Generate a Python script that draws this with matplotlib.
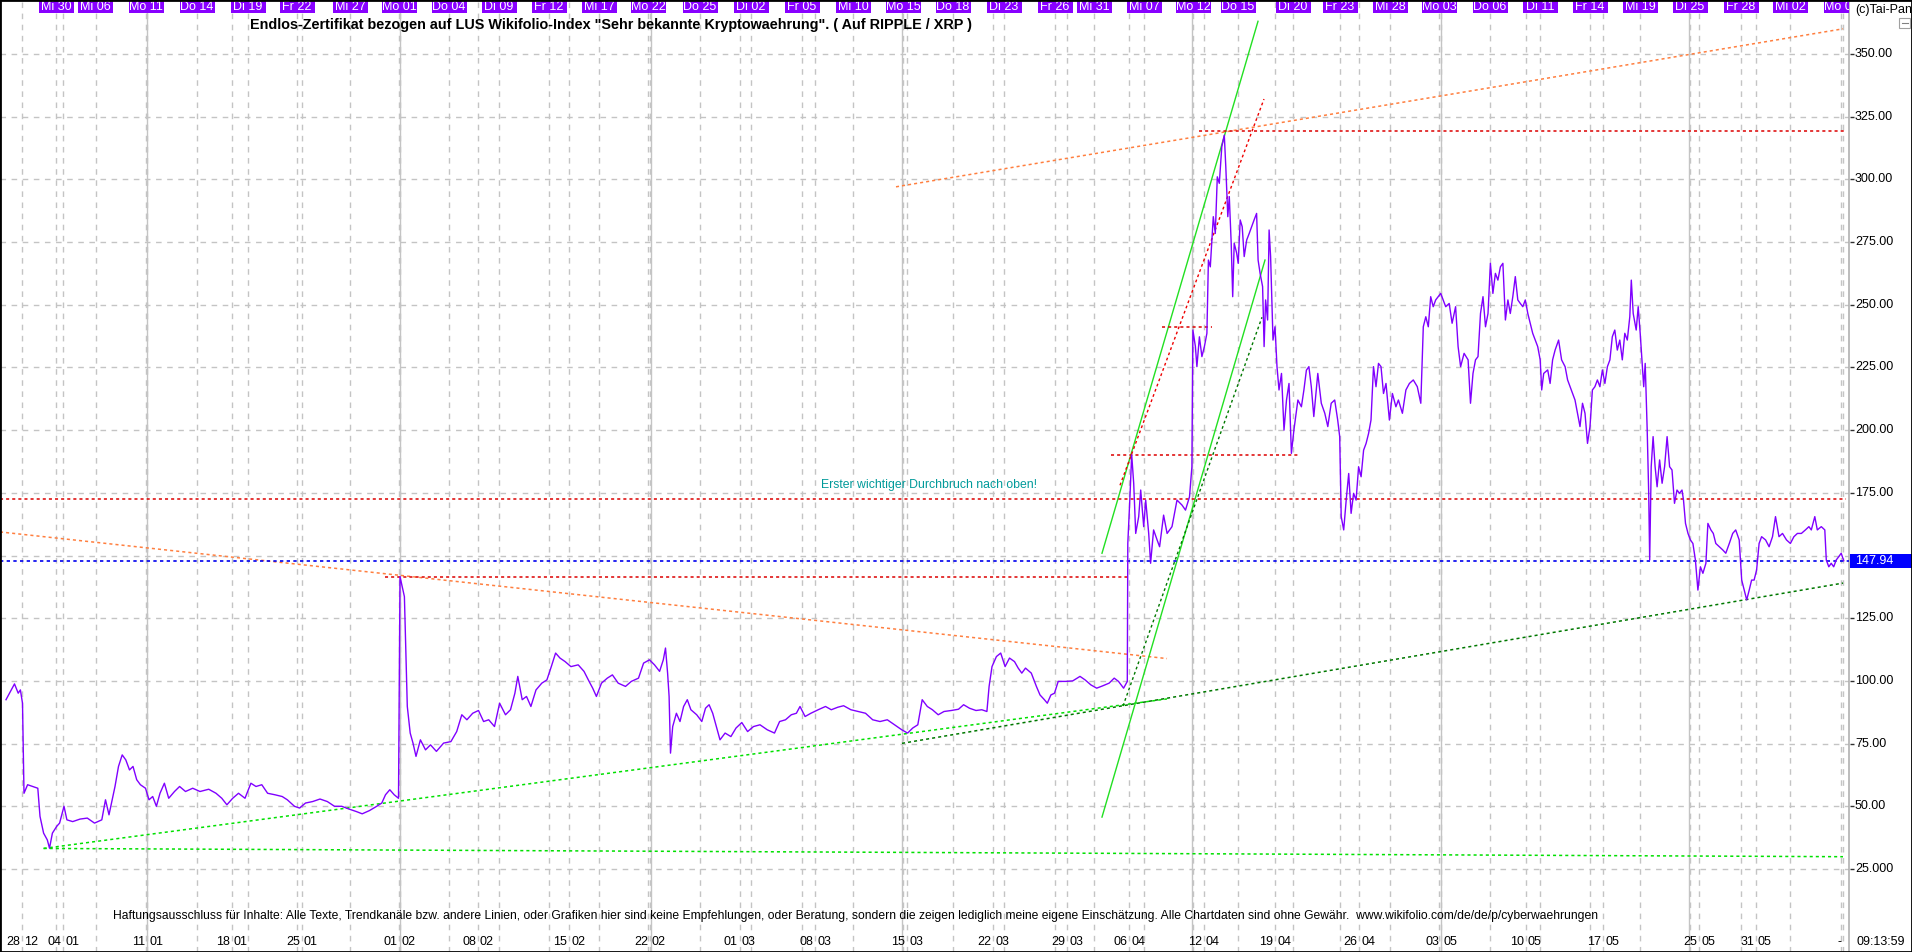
import matplotlib
matplotlib.use('Agg')
import matplotlib.pyplot as plt
from matplotlib.patches import Rectangle

plt.rcParams['font.family'] = ['Liberation Sans', 'DejaVu Sans']

W, H, DPI = 1912, 952, 100

# ---------------- data ----------------
# trading-time position (bar index) and price
t = [6, 14.5, 18.2, 20.4, 22.5, 24, 27.6, 32.7, 37.8, 40, 43.6, 47.3, 49.5, 52.4, 56.7, 59.6, 64, 66.9,
     72.7, 80, 87.3, 94.5, 101.8, 105.5, 109, 115, 118.5, 122.2, 125.8, 129.5, 133, 136.7, 140.4, 145.5,
     149, 152.7, 156.4, 160, 164.4, 168.7, 174.5, 179.6, 185.5, 192.7, 200, 208.7, 216, 221.8, 226.9,
     232.7, 238.5, 245, 250.9, 256, 261.8, 267.6, 274.9, 282.2, 287.3, 294.5, 299.6, 305.5, 312.7, 320,
     327.3, 334.5, 341.8, 349, 356.4, 362.2, 369.5, 376.7, 381.8, 385.5, 389.8, 394.2, 398.5, 400, 402.2,
     404.4, 405.8, 407.3, 410.2, 413, 416, 420.4, 425.5, 430.5, 436.4, 443.6, 450.9, 456.7, 461.8, 466.9,
     472.7, 478.5, 483.6, 488.7, 494.5, 499.6, 505.5, 510.5, 514.9, 517.8, 522.2, 526.5, 530.9, 536,
     541.8, 546.9, 551.3, 555.6, 560, 565.1, 570.9, 578.2, 584, 589.1, 592.7, 596.4, 601.5, 607.3, 612.4,
     618.2, 625.5, 631.3, 638.5, 643.6, 649.5, 654.5, 659.6, 663.3, 665.5, 667.6, 669.1, 670.5, 672.7,
     676.4, 680, 683.6, 687.3, 690.9, 696.7, 701.8, 705.5, 709.1, 712.7, 716.4, 720, 725.1, 730.9, 736,
     741.8, 747.6, 753.5, 760, 767.3, 774.5, 779.6, 785.5, 791.3, 796.4, 800, 805.1, 810.9, 818.2, 825.5,
     831.3, 837.8, 843.6, 850.9, 858.2, 865.5, 872.7, 880, 887.3, 894.5, 901.8, 907.6, 912.7, 917.8,
     922.2, 927.3, 932.4, 938.2, 944, 951.3, 958.5, 963.6, 969.5, 976, 981.8, 986.9, 989.1, 992, 996.4,
     1000.7, 1005.1, 1009.5, 1014.5, 1018.2, 1021.8, 1025.5, 1031.3, 1036.4, 1040, 1044.4, 1047.3,
     1050.9, 1054.5, 1058.2, 1065.5, 1072.7, 1080, 1085.1, 1090.9, 1096.7, 1102.5, 1109.1, 1114.2,
     1118.5, 1123.6, 1127.3,
     1127.8, 1129.8, 1131.7, 1133.7, 1135.7, 1138.7, 1140.7, 1143.7, 1145.7, 1148.7, 1150.6, 1153.6,
     1157.1, 1159.6, 1163.6, 1167.1, 1172, 1177, 1182, 1185.5, 1189.5, 1191.9, 1192.9, 1195.4, 1196.9,
     1199.4, 1201.9, 1204.4, 1206.9, 1208.4, 1210.3, 1213.3, 1215.3, 1217.3, 1219.3, 1221.8, 1224.3,
     1225.8, 1227.8, 1229.3, 1231.2, 1232.7, 1234.2, 1236.7, 1238.2, 1240.2, 1242.2, 1244.2, 1246.7,
     1249.2, 1251.6, 1254.1, 1256.6, 1258.1, 1260.1, 1262.6, 1264.1, 1265.6, 1267.6, 1269.1, 1270.6,
     1273, 1275, 1277, 1279, 1281.5, 1284, 1286.5, 1289, 1291.4, 1293.9, 1297.9, 1301.4, 1303.9, 1306.4,
     1308.9, 1311.3, 1313.8, 1317.8, 1321.3, 1324.8, 1327.8, 1331.2, 1334.7, 1337.7, 1339.7, 1341.2,
     1343.7, 1346.2, 1348.7, 1351.1, 1353.6, 1356.1, 1358.6, 1361.1, 1363.6, 1366.1, 1368.6, 1371,
     1373.5, 1376, 1378.5, 1381, 1383.5, 1386, 1389.4, 1392.4, 1395.9, 1398.4, 1402.4, 1405.9, 1409.4,
     1413.3, 1417.3, 1420.8, 1423.3, 1425.8, 1428.3, 1430.7, 1433.2, 1435.7, 1440.7, 1445.7, 1449.2,
     1452.1, 1455.6, 1458.1, 1460.6, 1464.1, 1468.1, 1470.5, 1473, 1475.5, 1478, 1480.5, 1483, 1485.5,
     1488, 1490.4, 1492.9, 1495.4, 1497.9, 1500.4, 1502.9, 1505.4, 1507.9, 1510.3, 1512.8, 1515.3,
     1517.8, 1520.3, 1522.8, 1525.3, 1527.8, 1530.2, 1532.7, 1535.2, 1537.7, 1540.2, 1541.7, 1543.7,
     1547.7, 1550.1, 1552.6, 1555.1, 1558.6, 1561.6, 1565.1, 1567.6, 1570.1, 1572.5, 1575, 1577.5, 1580,
     1582.5, 1585, 1587.5, 1590, 1592.4, 1594.9, 1597.4, 1599.9, 1602.4, 1604.9, 1607.4, 1609.9, 1612.3,
     1614.8, 1617.3, 1619.8, 1622.3, 1624.8, 1627.3, 1629.8, 1631.3, 1633.2, 1636.2, 1638.2, 1640.2,
     1642.2, 1643.7, 1645.2, 1647.2, 1648.7, 1649.7, 1651.2, 1653.1, 1655.1, 1657.1, 1659.6, 1662.1,
     1664.6, 1667.1, 1669.6, 1672, 1674.5, 1677, 1679.5, 1682, 1683.5, 1685.5, 1688, 1690.4, 1692.9,
     1695.4, 1697.9, 1700.4, 1702.9, 1705.9, 1707.9, 1710.9, 1713.3, 1715.8, 1719.3, 1722.8, 1725.8,
     1729.3, 1732.7, 1735.7, 1739.2, 1741.7, 1744.2, 1746.7, 1749.2, 1751.6, 1754.1, 1756.6, 1759.1,
     1761.6, 1765.6, 1769.1, 1772.5, 1775.5, 1779, 1782.5, 1786.5, 1790.4, 1793.9, 1797.4, 1801.4,
     1805.4, 1808.9, 1811.3, 1814.8, 1817.3, 1821.3, 1824.8, 1826.3, 1828.8, 1831.2, 1833.7, 1836.2,
     1838.7, 1841.2, 1843.7]
price = [92.5, 98.8, 95.1, 96.4, 91.1, 55.2, 58.6, 57.9, 57.2, 46, 39.3, 36.6, 33.3, 39.3, 42, 43.3, 50, 44.6,
         43.9, 44.9, 45.3, 43.3, 44.6, 52.6, 46.6, 57.9, 65.9, 70.5, 68.5, 64.5, 65.9, 60.6, 58.6, 57.2,
         52.6, 53.9, 50, 55.2, 59.2, 53.2, 55.9, 57.9, 55.9, 57.2, 55.9, 56.8, 55.2, 53.2, 50.6,
         53.2, 55.2, 53.2, 59.2, 57.9, 58.6, 55.2, 54.6, 53.9, 52.6, 50, 49.3, 51.3, 51.9, 52.9,
         51.9, 50, 50, 48.9, 47.9, 47, 48.3, 50, 51.3, 54.6, 56.6, 54.6, 53.2, 141.6, 137.6,
         133.6, 112.4, 89.8, 79.2, 75.2, 69.9, 76.5, 72.5, 74.5, 71.9, 75.2, 75.8, 79.8, 86.5, 84.5,
         87.1, 88.2, 83.8, 84.5, 81.8, 91.1, 86.5, 88.5, 95.1, 101.8, 92.5, 93.8, 89.8, 96.4,
         99.1, 100.4, 105.7, 111.1, 109.1, 107.7, 105.7, 106.4, 103.8, 99.8, 97.1, 93.8, 99.1, 101.1, 102.4,
         99.1, 97.8, 99.8, 101.1, 107.1, 108.4, 106.4, 103.8, 108.4, 113.1, 103.1, 93.8, 71.2, 81.8,
         87.1, 83.8, 89.8, 92.5, 88.5, 86.5, 83.8, 89.1, 90.5, 87.1, 81.8, 76.5, 79.2, 77.8, 81.2,
         83.4, 79.8, 81.8, 82.5, 80.5, 79.2, 83.8, 84.5, 86.5, 87.1, 89.8, 85.8, 87.1, 88.5, 89.8,
         88.5, 89.5, 90.1, 88.5, 87.8, 87.1, 84.5, 83.8, 84.5, 82.5, 80.5, 79.2, 81.2, 82.5,
         92.5, 89.8, 88.5, 86.5, 87.8, 88.2, 88.7, 90.5, 89.1, 88.2, 88.5, 87.8, 97.8, 105.7, 109.7,
         111.1, 105.7, 109.1, 107.7, 105.1, 103.1, 105.1, 103.1, 97.8, 94.4, 92.5, 91.1,
         94.4, 95.1, 99.8, 99.8, 100, 101.8, 100.4, 98.4, 97.1, 98, 99.1, 101.1,
         99.8, 97.1, 99.8,
         154.8, 172.1, 190.1, 178.8, 158.8, 165.5, 176.1, 161.5, 172.1, 158.8, 146.9, 160.2,
         156.2, 153.5, 166.1, 158.8, 161.5, 172.1, 170.1, 168.1, 173.4, 185.4, 239.9, 233.3, 225.3,
         237.2, 229.3, 233.3, 238.6, 267.8, 265.1, 285.1, 278.4, 301, 298.4, 313, 317.6,
         305, 285.1, 293.1, 274.5, 253.2, 274.5, 270.5, 266.5, 283.8, 281.1, 269.2, 275.8,
         278.4, 281.1, 283.8, 286.4, 267.8, 262.5, 257.2, 233.3, 251.9, 243.9, 279.8, 269.2,
         235.9, 241.2, 225.3, 216, 222.6, 200, 212, 218.6, 190.7, 200, 212, 209.3, 216, 223.9,
         225.3, 217.3, 205.4, 222.6, 210.7, 206.7, 201.4, 210.7, 212, 204, 197.4, 165.5,
         160.2, 172.1, 182.7, 166.8, 174.8, 172.1, 185.4, 181.4, 192, 194.7, 198.7, 204,
         225.3, 217.3, 226.6, 225.3, 214.6, 218.6, 204, 214.6, 209.3, 212, 206.7, 216, 218.6,
         220, 217.3, 210.7, 241.2, 245.2, 241.2, 253.2, 249.2, 251.9, 254.5, 249.2, 250.5,
         242.6, 249.2, 233.3, 225.3, 230.6, 228, 210.7, 222.6, 228, 229.3, 246.5, 253.2, 241.2,
         246.5, 266.5, 254.5, 262.5, 259.8, 265.1, 266.5, 243.9, 251.9, 246.5, 253.2, 261.2,
         251.9, 250.5, 249.2, 251.9, 246.5, 242.6, 238.6, 235.9, 233.3, 228, 216, 222.6,
         224, 218.6, 228, 231.9, 235.9, 228, 225.3, 220, 217.3, 214.6, 212, 206.7, 201.4,
         210.7, 206.7, 194.7, 201.4, 216, 217.3, 220, 217.3, 224, 218.6, 225.3, 228, 237.2,
         239.9, 231.9, 235.9, 228, 238.6, 235.9, 245.2, 259.8, 246.5, 239.9, 249.2, 238.6,
         226.6, 217.3, 226.6, 200, 174.8, 148.2, 185.4, 197.4, 185.4, 177.4, 188.1, 178.8,
         185.4, 197.4, 185.4, 184.1, 170.8, 176.1, 174.8, 176.1, 172.1, 162.8, 158.8, 156.2, 154.8,
         148.2, 136.2, 145.5, 142.9, 146.9, 162.8, 160.2, 158.8, 154.8, 153.5, 152.2, 150.9,
         154.8, 158.8, 160.2, 156.2, 140.2, 136.2, 132.3, 136.2, 140.2, 140.2, 144.2, 154.8,
         157.5, 156.2, 153.5, 157.5, 165.5, 157.5, 158.8, 156.2, 154.8, 157.5, 158.8, 158.8,
         160.2, 161.5, 160.2, 165.5, 160.2, 161.5, 160.2, 148.2, 145.5, 146.9, 145.5, 148.2,
         149.5, 150.9, 147.94]
last_price = 147.94

# drawn trend lines (start/end in trading-time and price)
orange_down = ([0, 1167], [159.4, 108.9])
orange_up = ([896, 1843], [297, 360])
lime_support = ([43.6, 1167], [33.2, 92.8])
lime_floor = ([43.6, 1843], [33.2, 29.9])
dark_support = ([902, 1843], [75.1, 139.0])
steep_upper = ([1102, 1258], [150.9, 363])
steep_lower = ([1102, 1265], [45.7, 267.8])
steep_dark = ([1123, 1262], [90, 245])
red_steep = ([1120, 1264], [178, 332])
# horizontal levels: (start, end, level)
red_levels = [(1199, 1846, 319.4), (1162, 1212, 241.0), (1111, 1299, 190.2),
              (0, 1846, 172.6), (385, 1127, 141.3)]

# right-axis ticks (150 is covered by the last-price box)
y_ticks = [25, 50, 75, 100, 125, 150, 175, 200, 225, 250, 275, 300, 325, 350]
y_tick_labels = ['25.000', '50.00', '75.00', '100.00', '125.00', '', '175.00', '200.00',
                 '225.00', '250.00', '275.00', '300.00', '325.00', '350.00']

bottom_pos = [22, 63, 147, 232, 302, 400, 478, 569, 650, 740, 815, 907, 993, 1067, 1129, 1204,
              1275, 1359, 1441, 1526, 1603, 1699, 1756]
bottom_day = ['28', '04', '11', '18', '25', '01', '08', '15', '22', '01', '08', '15', '22', '29',
              '06', '12', '19', '26', '03', '10', '17', '25', '31']
bottom_mon = ['12', '01', '01', '01', '01', '02', '02', '02', '02', '03', '03', '03', '03', '03',
              '04', '04', '04', '04', '05', '05', '05', '05', '05']

top_labels = ['Mi 30', 'Mi 06', 'Mo 11', 'Do 14', 'Di 19', 'Fr 22', 'Mi 27', 'Mo 01', 'Do 04',
              'Di 09', 'Fr 12', 'Mi 17', 'Mo 22', 'Do 25', 'Di 02', 'Fr 05', 'Mi 10', 'Mo 15',
              'Do 18', 'Di 23', 'Fr 26', 'Mi 31', 'Mi 07', 'Mo 12', 'Do 15', 'Di 20', 'Fr 23',
              'Mi 28', 'Mo 03', 'Do 06', 'Di 11', 'Fr 14', 'Mi 19', 'Di 25', 'Fr 28', 'Mi 02', 'Mo 07']
top_pos = [56, 95.5, 146, 197, 248, 297, 350, 399, 449, 499, 549, 599, 648, 700, 751, 802, 853,
           903, 953, 1004, 1055, 1094, 1144, 1193, 1238, 1293, 1340, 1390, 1439, 1490, 1540, 1590,
           1640, 1690, 1741, 1790, 1841]
solid_pos = [147, 400, 651, 902, 1192, 1441, 1689]

title = 'Endlos-Zertifikat bezogen auf LUS Wikifolio-Index "Sehr bekannte Kryptowaehrung". ( Auf RIPPLE / XRP )'
note = 'Erster wichtiger Durchbruch nach oben!'
disclaimer = ('Haftungsausschluss für Inhalte: Alle Texte, Trendkanäle bzw. andere Linien, oder Grafiken hier '
              'sind keine Empfehlungen, oder Beratung, sondern die zeigen lediglich meine eigene Einschätzung. '
              'Alle Chartdaten sind ohne Gewähr.  www.wikifolio.com/de/de/p/cyberwaehrungen')

# ---------------- layout ----------------
X_RIGHT = 1849          # right edge of plot in px
PX_PER_UNIT = 2.508     # vertical pixels per price unit
Y25 = 869               # pixel row of value 25


def v_of(py):
    return 25 + (Y25 - py) / PX_PER_UNIT


fig = plt.figure(figsize=(W / DPI, H / DPI), dpi=DPI)
fig.patch.set_facecolor('white')
ax = fig.add_axes([0, 0, X_RIGHT / W, 1])
ax.set_xlim(0, X_RIGHT)
ax.set_ylim(v_of(H), v_of(0))
ax.axis('off')

GRID = '#c4c4c4'
for yv in y_ticks:
    ax.hlines(yv, 0, X_RIGHT, colors=GRID, linestyles=(0, (4, 4)), lw=1, zorder=1)
for xp in sorted(set(top_pos + bottom_pos)):
    ax.vlines(xp, v_of(H), v_of(0), colors=GRID, linestyles=(0, (4, 4)), lw=1, zorder=1)
for xp in solid_pos:
    ax.vlines(xp, v_of(H), v_of(0), colors=GRID, lw=1, zorder=1)
ax.vlines(1843, v_of(H), v_of(0), colors=GRID, linestyles=(0, (4, 4)), lw=1, zorder=1)
ax.vlines(X_RIGHT - 0.5, v_of(H), v_of(0), colors='#b0b0b0', lw=1.2, zorder=1, clip_on=False)

# trend lines
dot = (0, (2, 2))
ax.plot(*orange_down, color='#ff7f3f', lw=1.1, ls=dot, zorder=3)
ax.plot(*orange_up, color='#ff7f3f', lw=1.1, ls=dot, zorder=3)
ax.plot(*lime_support, color='#00e000', lw=1.1, ls=dot, zorder=3)
ax.plot(*lime_floor, color='#00e000', lw=1.1, ls=dot, zorder=3)
ax.plot(*dark_support, color='#007800', lw=1.1, ls=dot, zorder=3)
ax.plot(*steep_upper, color='#22e022', lw=1.0, zorder=3)
ax.plot(*steep_lower, color='#22e022', lw=1.0, zorder=3)
ax.plot(*steep_dark, color='#007800', lw=1.0, ls=dot, zorder=3)
ax.plot(*red_steep, color='#ee0000', lw=1.0, ls=dot, zorder=3)
for x0, x1, lvl in red_levels:
    ax.hlines(lvl, x0, x1, colors='#dd0000', linestyles=dot, lw=1.1, zorder=3)
ax.hlines(last_price, 0, X_RIGHT, colors='#0000ee', linestyles=dot, lw=1.2, zorder=3)

# price
ax.plot(t, price, color='#8000ff', lw=1.0, zorder=4)

# top date boxes
for lab, xp in zip(top_labels, top_pos):
    ax.add_patch(Rectangle((xp - 17.5, v_of(12.5)), 35, v_of(1) - v_of(12.5),
                           facecolor='#8800ff', edgecolor='none', zorder=6))
    ax.text(xp, v_of(7), lab, color='white', fontsize=9, ha='center', va='center',
            zorder=7, clip_on=True)

# bottom date labels
for xp, d, m in zip(bottom_pos, bottom_day, bottom_mon):
    ax.text(xp - 2, v_of(942), d, fontsize=9, ha='right', va='center', color='black')
    ax.text(xp + 2, v_of(942), m, fontsize=9, ha='left', va='center', color='black')
ax.text(1840, v_of(942), '-', fontsize=9, ha='center', va='center')

# right axis labels
for yv, lab in zip(y_ticks, y_tick_labels):
    ax.hlines(yv, X_RIGHT + 1, X_RIGHT + 5, colors='#303030', lw=1, clip_on=False)
    if lab:
        ax.text(X_RIGHT + 6, yv, lab, fontsize=9, ha='left', va='center', clip_on=False)
ax.add_patch(Rectangle((X_RIGHT + 1, last_price - 7 / PX_PER_UNIT), 63, 14 / PX_PER_UNIT,
                       facecolor='#0000ff', edgecolor='none', clip_on=False, zorder=8))
ax.text(X_RIGHT + 6, last_price, f'{last_price:.2f}', color='white', fontsize=9,
        ha='left', va='center', clip_on=False, zorder=9)

# texts
fig.text(1855 / W, 1 - 10 / H, '(c)Tai-Pan', fontsize=9, ha='left', va='center')
fig.text(1881 / W, 1 - 942 / H, '09:13:59', fontsize=9, ha='center', va='center')
fig.patches.append(Rectangle((1899 / W, 1 - 28 / H), 11 / W, 10 / H, transform=fig.transFigure,
                             facecolor='white', edgecolor='#a0a0a0', lw=0.8))
fig.lines.append(plt.Line2D([1901.5 / W, 1907.5 / W], [1 - 23 / H, 1 - 23 / H],
                            transform=fig.transFigure, color='#808080', lw=0.8))

t_title = fig.text(250 / W, 1 - 25 / H, title, fontsize=9, weight='bold', ha='left', va='center')
t_note = ax.text(929, v_of(485), note, fontsize=8, color='#009a9a', ha='center', va='center')
t_disc = fig.text(113 / W, 1 - 916 / H, disclaimer, fontsize=8, ha='left', va='center')

fig.canvas.draw()
r = fig.canvas.get_renderer()
for txt, target in [(t_title, 725), (t_note, 217), (t_disc, 1494)]:
    w = txt.get_window_extent(r).width
    txt.set_fontsize(txt.get_fontsize() * target / w)

# outer frame
fig.patches.append(Rectangle((0, 0), 1, 1, transform=fig.transFigure, fill=False,
                             edgecolor='black', lw=2))

fig.savefig('out.png', dpi=DPI)
